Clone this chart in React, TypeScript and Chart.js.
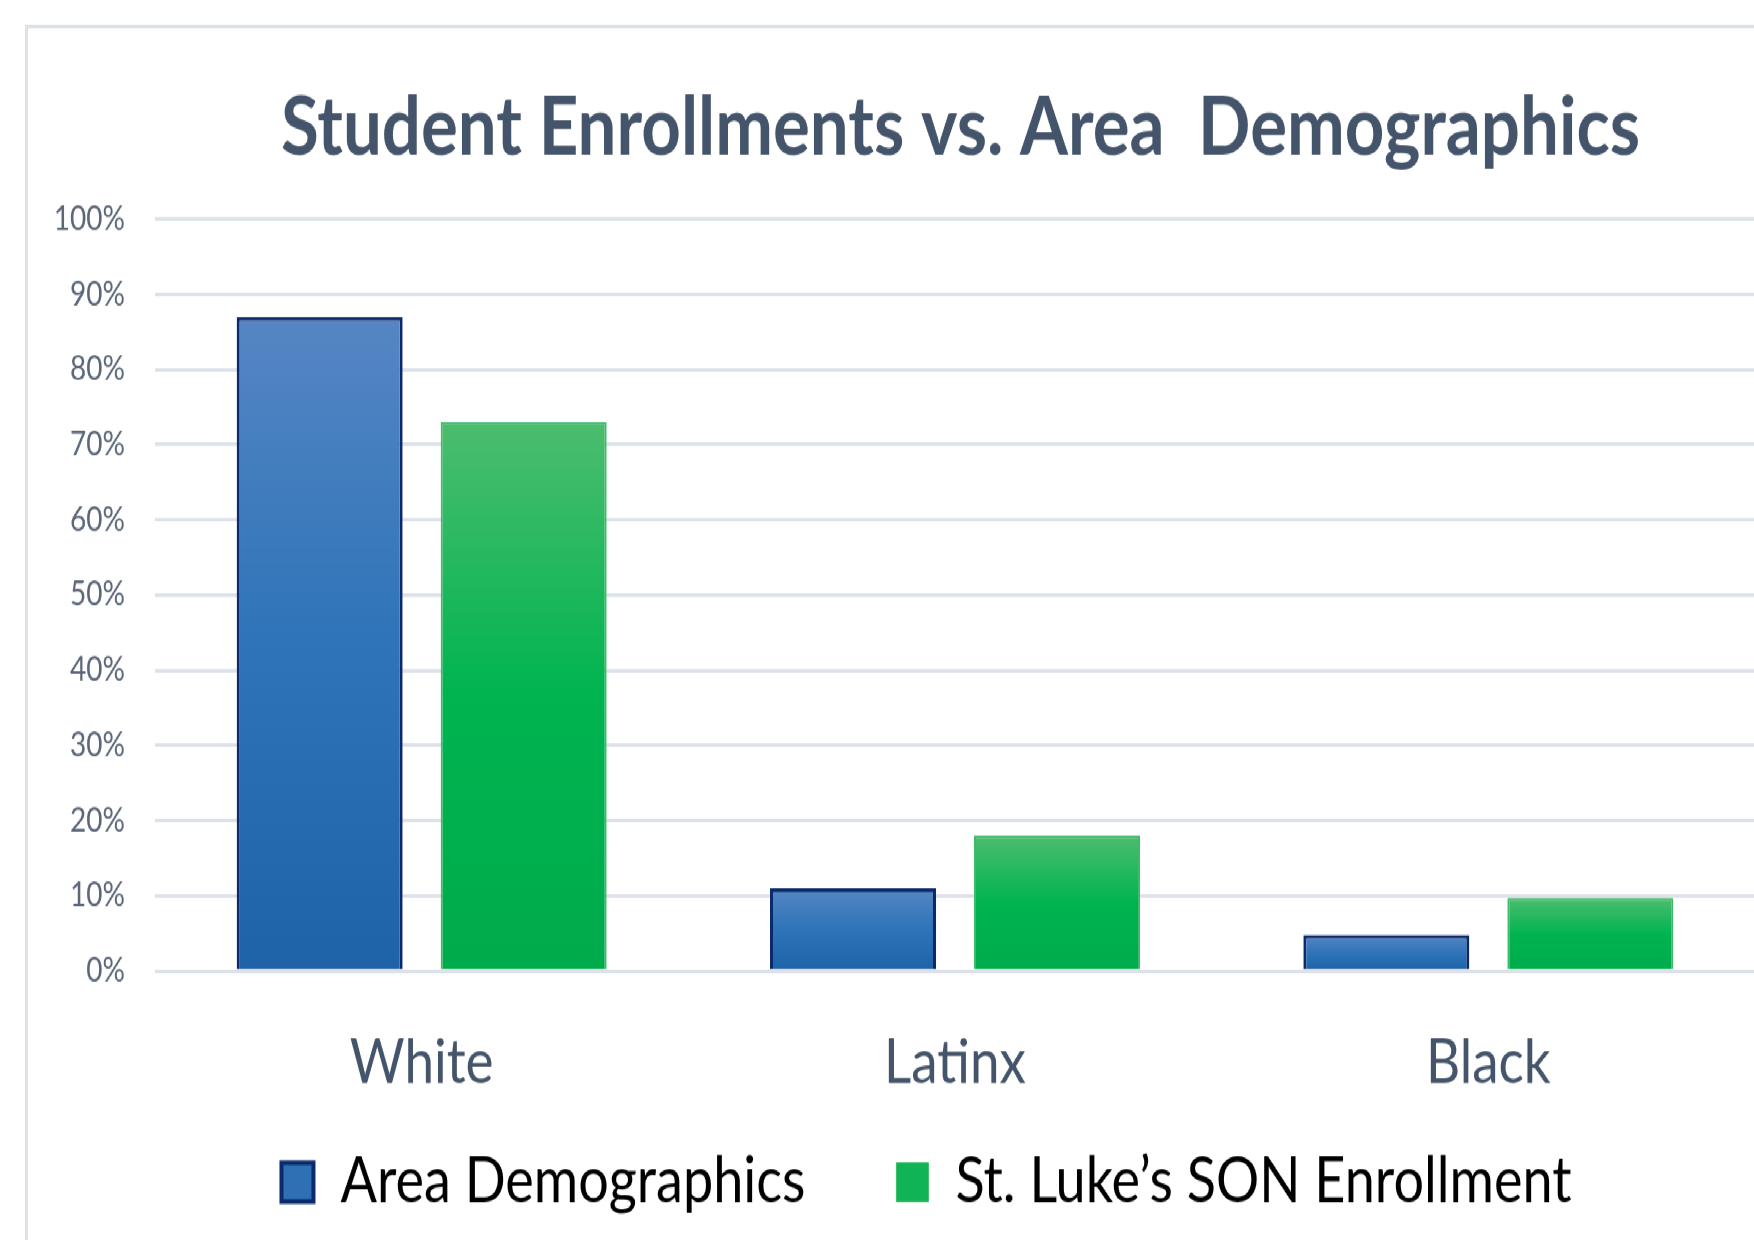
import { useEffect, useRef } from 'react';
import { Chart, registerables } from 'chart.js';

Chart.register(...registerables);

// ---- data ----
const categories = ['White', 'Latinx', 'Black'];
const areaDemographics = [87, 11, 4.8];
const sonEnrollment = [73, 18, 9.7];
const seriesLabels = ['Area Demographics', 'St. Luke\u2019s SON Enrollment'];
const titleText = 'Student Enrollments vs. Area  Demographics';
const yMin = 0;
const yMax = 100;
const yStep = 10;

// ---- styling / layout ----
const S = 1240 / 1051; // vertical stretch of the original picture
const CANVAS_W = 1755;
const CANVAS_H = 1051;
const FONT = 'Lato, "Open Sans", sans-serif';
const TEXT_COLOR = '#44546a';
const TICK_COLOR = '#5b6778';
const GRID_COLOR = '#dde2ea';
const BLUE_STOPS = ['#5686c4', '#2e74b8', '#1e63a7'];
const GREEN_STOPS = ['#4cbd6e', '#00b450', '#00ab4b'];
const BLUE_BORDER = '#0b2a6b';
const GREEN_BORDER = '#3dbb6a';
const TITLE_SHIFT = 83;
const LEGEND_SHIFT = 49;

function barGradient(stops: string[]) {
  return (ctx: any) => {
    const chart = ctx.chart;
    const scales = chart.scales;
    if (!chart.chartArea || ctx.dataIndex === undefined || !scales || !scales.y) {
      return stops[1];
    }
    const v = ctx.raw;
    const top = scales.y.getPixelForValue(v);
    const bottom = scales.y.getPixelForValue(0);
    if (!isFinite(top) || !isFinite(bottom) || top === bottom) return stops[1];
    const g = chart.ctx.createLinearGradient(0, top, 0, bottom);
    stops.forEach((c, i) => g.addColorStop(i / (stops.length - 1), c));
    return g;
  };
}

const shiftPlugin = {
  id: 'shiftBoxes',
  afterLayout(chart: any) {
    const t = chart.titleBlock;
    if (t) {
      t.left += TITLE_SHIFT;
      t.right += TITLE_SHIFT;
    }
    const l = chart.legend;
    if (l) {
      l.left += LEGEND_SHIFT;
      l.right += LEGEND_SHIFT;
    }
    // let the category labels draw below the compact x-axis box without clipping
    const x = chart.scales.x;
    if (x) {
      x.bottom = x.top + 200;
      x.height = 200;
    }
  },
};

export default function App() {
  const ref = useRef<HTMLCanvasElement>(null);

  useEffect(() => {
    if (!ref.current) return;
    const chart = new Chart(ref.current, {
      type: 'bar',
      data: {
        labels: categories,
        datasets: [
          {
            label: seriesLabels[0],
            data: areaDemographics,
            backgroundColor: barGradient(BLUE_STOPS),
            borderColor: BLUE_BORDER,
            borderWidth: 3,
            categoryPercentage: 0.765,
            barPercentage: 0.8137,
          },
          {
            label: seriesLabels[1],
            data: sonEnrollment,
            backgroundColor: barGradient(GREEN_STOPS),
            borderColor: GREEN_BORDER,
            borderWidth: 2,
            categoryPercentage: 0.765,
            barPercentage: 0.8137,
          },
        ],
      },
      options: {
        responsive: true,
        maintainAspectRatio: false,
        animation: false,
        layout: { padding: { left: 0, right: 0, top: 0, bottom: 12 } },
        plugins: {
          tooltip: { enabled: false },
          title: {
            display: true,
            text: titleText,
            color: TEXT_COLOR,
            font: { family: FONT, size: 69, weight: 'bold', lineHeight: 1.2 },
            padding: { top: 67, bottom: 36 },
          },
          legend: {
            display: true,
            position: 'bottom',
            labels: {
              color: TEXT_COLOR,
              font: { family: FONT, size: 54 },
              boxWidth: 32,
              boxHeight: 33,
              padding: 91,
              generateLabels: () =>
                seriesLabels.map((text, i) => ({
                  text,
                  fillStyle: i === 0 ? '#2f6fb3' : '#10b456',
                  strokeStyle: i === 0 ? BLUE_BORDER : GREEN_BORDER,
                  lineWidth: i === 0 ? 4 : 1,
                  hidden: false,
                  datasetIndex: i,
                })),
            },
          },
        },
        scales: {
          x: {
            grid: { display: false },
            border: { display: false },
            ticks: {
              color: TEXT_COLOR,
              font: { family: FONT, size: 53, lineHeight: 1.2 },
              padding: 38,
              maxRotation: 0,
              autoSkip: false,
            },
            afterFit: (scale: any) => {
              scale.height = 61;
            },
          },
          y: {
            min: yMin,
            max: yMax,
            border: { display: false },
            grid: { color: GRID_COLOR, lineWidth: 3, drawTicks: false },
            ticks: {
              stepSize: yStep,
              color: TICK_COLOR,
              font: { family: FONT, size: 28 },
              padding: 30,
              callback: (v: any) => `${v}%`,
            },
            afterFit: (scale: any) => {
              scale.width = 155;
            },
          },
        },
      },
      plugins: [shiftPlugin],
    } as any);
    return () => chart.destroy();
  }, []);

  return (
    <div
      style={{
        position: 'fixed',
        left: 0,
        top: 0,
        width: 1754,
        height: CANVAS_H,
        overflow: 'hidden',
        transform: `scaleY(${S})`,
        transformOrigin: '0 0',
        background: '#ffffff',
      }}
    >
      <div
        style={{
          position: 'absolute',
          left: 25,
          top: 25 / S,
          width: 3000,
          height: 3000,
          borderLeft: `3px solid ${GRID_COLOR}`,
          borderTop: `${4 / S}px solid ${GRID_COLOR}`,
        }}
      />
      <div style={{ position: 'absolute', left: 0, top: 0, width: CANVAS_W, height: CANVAS_H }}>
        <canvas ref={ref} />
      </div>
    </div>
  );
}
